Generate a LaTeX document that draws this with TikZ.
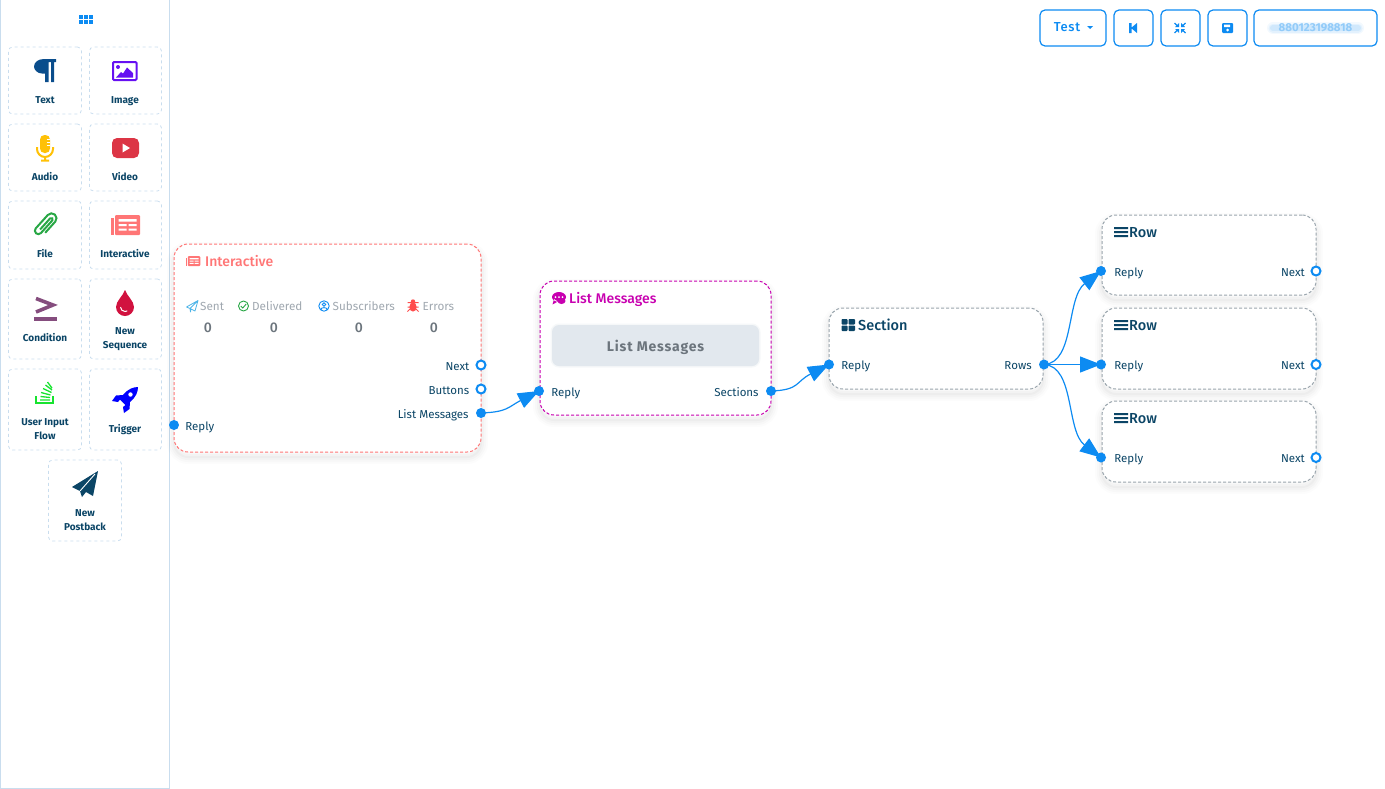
\documentclass[tikz,border=0pt]{standalone}
\usepackage{fontspec}
\setmainfont{Fira Sans}
\newfontfamily\medfont{Fira Sans Medium}
\usetikzlibrary{positioning,arrows.meta}
\definecolor{flowblue}{HTML}{0D8BF2}
\definecolor{navy}{HTML}{0B4566}
\definecolor{tileline}{HTML}{C9DDEE}
\definecolor{salmon}{HTML}{FF7676}
\definecolor{magenta}{HTML}{C800B0}
\definecolor{cardgray}{HTML}{9AA5AD}
\definecolor{statgray}{HTML}{A0A8B0}
\definecolor{valgray}{HTML}{6C757D}
\definecolor{textblue}{HTML}{0A4D8C}
\definecolor{imgpurple}{HTML}{6610F2}
\definecolor{micyellow}{HTML}{FFC107}
\definecolor{vidred}{HTML}{DC3545}
\definecolor{clipgreen}{HTML}{28A745}
\definecolor{condplum}{HTML}{854D7E}
\definecolor{dropred}{HTML}{D1123F}
\definecolor{flowgreen}{HTML}{17E32F}
\definecolor{sentblue}{HTML}{4DB5E8}
\definecolor{bugred}{HTML}{FF4D4D}
\definecolor{btnfill}{HTML}{E2E8EE}
\begin{document}
\begin{tikzpicture}[
		x=1pt, y=-1pt,
		tile/.style = {draw=tileline, dash pattern=on 3pt off 3pt, rounded corners=4pt, line width=.8pt, inner sep=0pt},
		tilelabel/.style = {font=\fontsize{10}{14}\selectfont\bfseries, text=navy, align=center},
		softshadow/.style = {
			preaction={draw=black, solid, line width=14pt, opacity=.012, transform canvas={yshift=-5pt}},
			preaction={draw=black, solid, line width=10pt, opacity=.016, transform canvas={yshift=-5pt}},
			preaction={draw=black, solid, line width=6pt, opacity=.02, transform canvas={yshift=-5pt}},
			preaction={draw=black, solid, line width=2pt, opacity=.025, transform canvas={yshift=-5pt}}},
		card/.style = {softshadow, fill=white, dash pattern=on 3pt off 2pt, rounded corners=14pt, line width=1pt, inner sep=0pt},
		topbtn/.style = {draw=flowblue, rounded corners=5pt, line width=1.2pt, minimum height=36pt, inner sep=0pt},
		title/.style = {font=\fontsize{14}{16}\medfont, anchor=west, inner sep=0pt},
		medtitle/.style = {font=\fontsize{14.5}{16}\medfont, anchor=west, inner sep=0pt, text=navy},
		statlabel/.style = {font=\fontsize{11.7}{13}\selectfont, text=statgray, anchor=west, inner sep=0pt, text height=11pt, text depth=1pt},
		statvalue/.style = {font=\fontsize{14}{15}\medfont, text=valgray, inner sep=0pt},
		portlabel/.style = {font=\fontsize{11.5}{13}\selectfont, text=navy, inner sep=0pt, text height=11pt, text depth=1pt},
		filled/.style = {circle, fill=flowblue, minimum size=10pt, inner sep=0pt},
		open/.style = {circle, draw=flowblue, fill=white, line width=2pt, minimum size=9pt, inner sep=0pt},
		link/.style = {draw=flowblue, line width=1.2pt, -{Triangle[length=21pt,width=16pt,fill=flowblue]}},
		newsicon/.pic = {
			\fill[salmon, rounded corners=1pt] (-10.5,-10) rectangle (14.5,10);
			\fill[salmon] (-14.5,-7) rectangle (-11.5,10);
			\fill[white] (-7,-6) rectangle (11,-3.5) (-7,-1) rectangle (1,1) (3,-1) rectangle (11,1) (-7,3.5) rectangle (1,5.5) (3,3.5) rectangle (11,5.5);
		},
		planeicon/.pic = {
			\fill[navy] (13,-13) -- (-13,3) -- (-5,7) -- (-3,13) -- (1,8) -- (8,12) -- cycle;
			\draw[white, line width=.9pt] (10,-10) -- (-5,7);
		},
		baricon/.pic = {
			\fill[navy] (-7,-5) rectangle (7,-3) (-7,-1) rectangle (7,1) (-7,3) rectangle (7,5);
		}
	]
	\useasboundingbox (0,0) rectangle (1385,788);
	% Sidebar.
	\node[draw=tileline, minimum width=169pt, minimum height=789pt, inner sep=0pt, line width=1pt] (sidebar) at (85,394) {};
	\foreach \i in {0,1,2} \foreach \j in {0,1}
		\fill[flowblue] (78.5+\i*5,14.5+\j*5.3) rectangle +(4,4);
	\node[tile, minimum width=73pt, minimum height=67pt] (ttext) at (45,80.5) {};
	\node[tile, minimum width=72pt, minimum height=67pt] (timage) at (125.5,80.5) {};
	\node[tile, minimum width=73pt, minimum height=67pt] (taudio) at (45,157.5) {};
	\node[tile, minimum width=72pt, minimum height=67pt] (tvideo) at (125.5,157.5) {};
	\node[tile, minimum width=73pt, minimum height=68pt] (tfile) at (45,235) {};
	\node[tile, minimum width=72pt, minimum height=68pt] (tinter) at (125.5,235) {};
	\node[tile, minimum width=73pt, minimum height=80pt] (tcond) at (45,319) {};
	\node[tile, minimum width=72pt, minimum height=80pt] (tseq) at (125.5,319) {};
	\node[tile, minimum width=73pt, minimum height=81pt] (tflow) at (45,409.5) {};
	\node[tile, minimum width=72pt, minimum height=81pt] (ttrig) at (125.5,409.5) {};
	\node[tile, minimum width=73pt, minimum height=81pt] (tback) at (85,500.5) {};
	\node[tilelabel] (ltext) at (45,100) {Text};
	\node[tilelabel] (limage) at (125,101) {Image};
	\node[tilelabel] (laudio) at (45,176.5) {Audio};
	\node[tilelabel] (lvideo) at (125,176.5) {Video};
	\node[tilelabel] (lfile) at (45,253.5) {File};
	\node[tilelabel] (linter) at (125,253.5) {Interactive};
	\node[tilelabel] (lcond) at (45,337.5) {Condition};
	\node[tilelabel] (lseq) at (125,339) {New\\Sequence};
	\node[tilelabel] (lflow) at (45,429) {User Input\\Flow};
	\node[tilelabel] (ltrig) at (125,430) {Trigger};
	\node[tilelabel] (lback) at (85,520) {New\\Postback};
	% Sidebar icons.
	\fill[shift={(45,70.5)}, textblue] (-1,-11.5) -- (11,-11.5) -- (11,-8.5) -- (9,-8.5) -- (9,11.5) -- (6,11.5) -- (6,-8.5) -- (3.5,-8.5) -- (3.5,11.5) -- (0,11.5) -- (0,3) -- (-3,3) .. controls (-8,3) and (-11,-1) .. (-11,-4) .. controls (-11,-8) and (-7,-11.5) .. (-1,-11.5) -- cycle;
	\draw[imgpurple, line width=2pt, rounded corners=1pt] (113,62) rectangle (136.5,80);
	\fill[imgpurple] (118,67) circle (2pt) (116,77.5) -- (121,72) -- (123,73.5) -- (127,67.5) -- (133,73) -- (133,77.5) -- cycle;
	\fill[micyellow, rounded corners=4.5pt] (40,135) rectangle (50,153);
	\draw[micyellow, line width=2pt] (37,147) -- (37,149) arc (180:0:8) -- (53,147) (45,157) -- (45,160) (41,160.5) -- (49,160.5);
	\draw[white, line width=.8pt] (46.5,139) -- (50,139) (46.5,142) -- (50,142) (46.5,145) -- (50,145);
	\fill[vidred, rounded corners=5pt] (112,138) rectangle (139,158);
	\fill[white] (122.5,143.5) -- (130,148) -- (122.5,152.5) -- cycle;
	\draw[clipgreen, line width=2pt, shift={(45.5,225)}, rotate=-42] (5,6) -- (5,-9) arc (0:-180:5) -- (-5,9) arc (180:0:3.5) -- (2,-8) arc (0:-180:1.5) -- (-1,7);
	\pic (inews) at (125.5,225) {newsicon};
	\draw[condplum, line width=3.6pt] (36,298.5) -- (53,305) -- (36,312);
	\fill[condplum] (34,316.5) rectangle (57,321);
	\fill[dropred] (125,290) .. controls (127,296) and (134,301) .. (134,307) arc (0:180:9) .. controls (116,301) and (123,296) .. (125,290) -- cycle;
	\draw[white, line width=1pt] (120.5,307) arc (180:60:4.5);
	\draw[flowgreen, line width=1.5pt] (36,396) -- (36,403) -- (53,403) -- (53,396);
	\draw[flowgreen, line width=1.3pt] (40,400) -- (50,400) (40.5,396.5) -- (50,397.5) (41,392.5) -- (50.5,395) (43,388.5) -- (51.5,392.5) (45.5,385) -- (52,390) (47.5,382) -- (52,388);
	\fill[blue] (138,387) .. controls (133,387) and (128,389) .. (123,395) -- (116,395.5) -- (112,401) -- (118,402) -- (120,399.5) -- (125.5,405) -- (123,407) -- (124,413) -- (129.5,409) -- (130,402) .. controls (136,397) and (138,392) .. (138,387) -- cycle;
	\fill[white] (130.5,394.5) circle (2.2pt);
	\pic (iplane) at (85,484) {planeicon};
	% Top bar.
	\node[topbtn, minimum width=66pt] (btest) at (1073,28) {};
	\node[topbtn, minimum width=39pt] (bback) at (1133.5,28) {};
	\node[topbtn, minimum width=39pt] (bcoll) at (1180.5,28) {};
	\node[topbtn, minimum width=39pt] (bsave) at (1227.5,28) {};
	\node[topbtn, minimum width=123pt] (bphone) at (1315.5,28) {};
	\node[font=\fontsize{13}{15}\medfont\addfontfeatures{LetterSpace=5}, text=flowblue, inner sep=0pt] (ltest) at (1067,27.5) {Test};
	\fill[flowblue] (1087,26) -- (1093,26) -- (1090,29) -- cycle;
	\fill[flowblue] (1129,23) rectangle (1131.5,33) (1137,23) -- (1131,28) -- (1137,33) -- cycle;
	\draw[flowblue, line width=1.3pt] (1174.5,23) -- (1177.5,26) (1185.5,23) -- (1182.5,26) (1174.5,33) -- (1177.5,30) (1185.5,33) -- (1182.5,30);
	\fill[flowblue] (1179,27) -- (1175,27) -- (1179,23) -- cycle (1181,27) -- (1185,27) -- (1181,23) -- cycle (1179,29) -- (1175,29) -- (1179,33) -- cycle (1181,29) -- (1185,29) -- (1181,33) -- cycle;
	\fill[flowblue, rounded corners=1pt] (1222,23) rectangle (1233,33);
	\fill[white] (1224,24.5) rectangle (1230,27) (1227.5,30) circle (1.5pt);
	\foreach \w/\o in {12/.05,9/.07,6/.09}
		\draw[flowblue, opacity=\o, line width=\w pt, line cap=round] (1273,28) -- (1358,28);
	\node[font=\fontsize{11.5}{13}\selectfont\bfseries, text=flowblue!45, inner sep=0pt] (lphone) at (1315.5,28) {880123198818};
	% Interactive.
	\node[card, draw=salmon, minimum width=307pt, minimum height=208pt] (inter) at (327.5,348) {};
	\pic[scale=.5] (tnews) at (193,261) {newsicon};
	\node[title, text=salmon] (tinteractive) at (205,261) {Interactive};
	\node[statlabel] (ssent) at (200,305.5) {Sent};
	\node[statlabel] (sdeliv) at (252,305.5) {Delivered};
	\node[statlabel] (ssubs) at (332.5,305.5) {Subscribers};
	\node[statlabel] (serr) at (422.5,305.5) {Errors};
	\node[statvalue] (vsent) at (208,327.5) {0};
	\node[statvalue] (vdeliv) at (274,327.5) {0};
	\node[statvalue] (vsubs) at (359,327.5) {0};
	\node[statvalue] (verr) at (434,327.5) {0};
	\draw[sentblue, line width=.8pt, line join=round] (198,300.5) -- (186.5,307) -- (190,308.5) -- (198,300.5) -- (195,311) -- (191,309) -- (190.5,312) -- (190,308.5);
	\draw[clipgreen, line width=.9pt] (243.5,306) circle (5pt) (240.8,306) -- (242.8,308) -- (246.2,304);
	\draw[flowblue, line width=.9pt] (324,306) circle (5.2pt) (324,304.5) circle (1.8pt) (320.7,309.5) .. controls (321.5,307) and (326.5,307) .. (327.3,309.5);
	\fill[bugred] (413,307) ellipse (3.6pt and 4.6pt) (413,301.5) circle (2.2pt);
	\draw[bugred, line width=1pt] (407.5,302.5) -- (418.5,302.5) (407.5,307) -- (418.5,307) (407.5,311.5) -- (410,309) (418.5,311.5) -- (416,309);
	% List Messages.
	\node[card, draw=magenta, minimum width=231pt, minimum height=134pt] (list) at (655.5,348) {};
	\fill[magenta] (559,297) ellipse (7pt and 5pt) (552.5,304.5) -- (554,299) -- (558,301.5) -- cycle (561.5,301) ellipse (4pt and 3pt);
	\fill[white] (555.5,297) circle (1pt) (559,297) circle (1pt) (562.5,297) circle (1pt);
	\node[title, text=magenta] (tlist) at (569,299.5) {List Messages};
	\node[fill=btnfill, rounded corners=7pt, minimum width=207pt, minimum height=41pt, inner sep=0pt, text=valgray, text height=12pt, text depth=1pt, font=\fontsize{14}{16}\selectfont\bfseries\addfontfeatures{LetterSpace=6}, preaction={draw=btnfill, line width=3pt, opacity=.3}] (blist) at (655.5,345.5) {List Messages};
	% Section.
	\node[card, draw=cardgray, minimum width=214pt, minimum height=81pt] (section) at (936,348.5) {};
	\fill[navy, rounded corners=.8pt] (841.5,319) rectangle (847.5,324.5) (848.5,319) rectangle (855,324.5) (841.5,325.5) rectangle (847.5,331) (848.5,325.5) rectangle (855,331);
	\node[medtitle] (tsection) at (858,325) {Section};
	% Rows.
	\node[card, draw=cardgray, minimum width=214pt, minimum height=80pt] (rowa) at (1209,255) {};
	\node[card, draw=cardgray, minimum width=214pt, minimum height=81pt] (rowb) at (1209,348.5) {};
	\node[card, draw=cardgray, minimum width=214pt, minimum height=81pt] (rowc) at (1209,441.5) {};
	\pic (bara) at (1121,232) {baricon};
	\pic (barb) at (1121,325) {baricon};
	\pic (barc) at (1121,418) {baricon};
	\node[medtitle] (trowa) at (1129,233) {Row};
	\node[medtitle] (trowb) at (1129,326) {Row};
	\node[medtitle] (trowc) at (1129,419) {Row};
	% Ports.
	\node[filled] (pireply) at (174,425) {};
	\node[open] (pinext) at (481,365) {};
	\node[open] (pibtn) at (481,389) {};
	\coordinate (pilist) at (481,413);
	\coordinate (plreply) at (539,391);
	\coordinate (plsect) at (771,391);
	\coordinate (psreply) at (829,364.5);
	\coordinate (psrows) at (1044,364.5);
	\coordinate (praply) at (1101,271);
	\coordinate (prbply) at (1101,364.5);
	\coordinate (prcply) at (1101,457.5);
	\draw[link] (pilist) .. controls (508,412) and (508,407) .. (plreply);
	\draw[link] (plsect) .. controls (800,390) and (795,382) .. (psreply);
	\draw[link] (psrows) .. controls (1075,363) and (1066,298) .. (praply);
	\draw[link] (psrows) -- (prbply);
	\draw[link] (psrows) .. controls (1075,366) and (1066,431) .. (prcply);
	\node[filled] (dotlist) at (pilist) {};
	\node[filled] (dotlreply) at (plreply) {};
	\node[filled] (dotlsect) at (plsect) {};
	\node[filled] (dotsreply) at (psreply) {};
	\node[filled] (dotsrows) at (psrows) {};
	\node[filled] (dotareply) at (praply) {};
	\node[filled] (dotbreply) at (prbply) {};
	\node[filled] (dotcreply) at (prcply) {};
	\node[open] (panext) at (1316,271) {};
	\node[open] (pbnext) at (1316,364.5) {};
	\node[open] (pcnext) at (1316,457.5) {};
	% Port labels.
	\node[portlabel, right=6pt of pireply] (lireply) {Reply};
	\node[portlabel, left=6pt of pinext] (linext) {Next};
	\node[portlabel, left=6pt of pibtn] (libtn) {Buttons};
	\node[portlabel, left=7pt of dotlist] (lilist) {List Messages};
	\node[portlabel, right=7pt of dotlreply] (llreply) {Reply};
	\node[portlabel, left=7pt of dotlsect] (llsect) {Sections};
	\node[portlabel, right=7pt of dotsreply] (lsreply) {Reply};
	\node[portlabel, left=7pt of dotsrows] (lsrows) {Rows};
	\node[portlabel, right=8pt of dotareply] (lareply) {Reply};
	\node[portlabel, right=8pt of dotbreply] (lbreply) {Reply};
	\node[portlabel, right=8pt of dotcreply] (lcreply) {Reply};
	\node[portlabel, left=5.5pt of panext] (lanext) {Next};
	\node[portlabel, left=5.5pt of pbnext] (lbnext) {Next};
	\node[portlabel, left=5.5pt of pcnext] (lcnext) {Next};
\end{tikzpicture}
\end{document}
